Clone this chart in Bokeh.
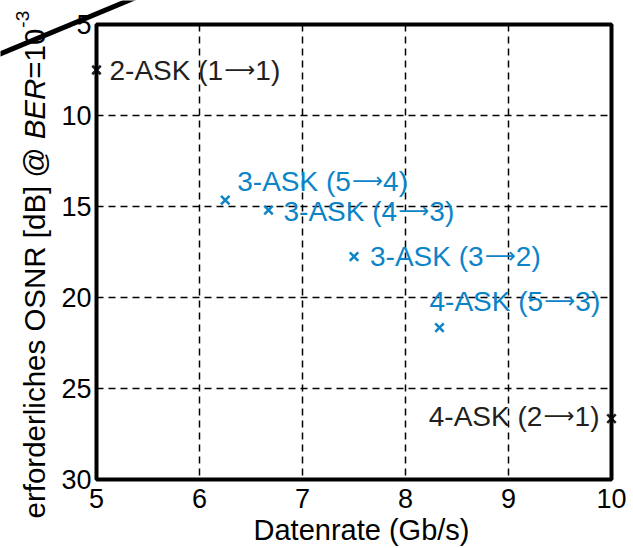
import math
from bokeh.plotting import figure
from bokeh.models import ColumnDataSource, Range1d, FixedTicker, Label, PolyAnnotation, BoxAnnotation
from bokeh.core.properties import value
from bokeh.embed import file_html
from bokeh.resources import INLINE

# data
rates = [5.0, 6.25, 6.67, 7.5, 8.33, 10.0]
osnr = [7.5, 14.65, 15.2, 17.75, 21.65, 26.65]
names = ["2-ASK (1\u21921)", "3-ASK (5\u21924)", "3-ASK (4\u21923)",
         "3-ASK (3\u21922)", "4-ASK (5\u21923)", "4-ASK (2\u21921)"]
groups = ["k", "b", "b", "b", "b", "k"]
x_ticks = [5, 6, 7, 8, 9, 10]
y_ticks = [5, 10, 15, 20, 25, 30]
x_label = "Datenrate (Gb/s)"
y_label_parts = ["erforderliches OSNR [dB] @ ", "BER", "=10", "-3"]

BLACK = "#231f20"
BLUE = "#0c84c8"
FONT = "Liberation Sans"
ARROW_FONT = "DejaVu Sans"

# ---- layout (pixels) ----
W, H = 633, 548
BOX_L, BOX_R, BOX_T, BOX_B = 96, 611, 24, 479
sx = (BOX_R - BOX_L) / (x_ticks[-1] - x_ticks[0])
sy = (BOX_B - BOX_T) / (y_ticks[-1] - y_ticks[0])
xr = Range1d(x_ticks[0] - BOX_L / sx, x_ticks[-1] + (W - BOX_R) / sx)
yr = Range1d(y_ticks[-1] + (H - BOX_B) / sy, y_ticks[0] - BOX_T / sy)

p = figure(width=W, height=H, output_backend="svg", toolbar_location=None,
           x_range=xr, y_range=yr, min_border=0)
p.background_fill_color = "white"
p.border_fill_color = "white"
p.outline_line_color = None

for ax in (p.xaxis[0], p.yaxis[0]):
    ax.axis_line_color = None
    ax.major_tick_line_color = None
    ax.minor_tick_line_color = None
    ax.major_tick_out = 0
    ax.major_tick_in = 0
    ax.major_label_text_font = FONT
    ax.major_label_text_font_size = "27px"
    ax.major_label_text_color = "black"
p.xaxis.ticker = FixedTicker(ticks=x_ticks)
p.yaxis.ticker = FixedTicker(ticks=y_ticks)
p.xaxis.fixed_location = y_ticks[-1]
p.yaxis.fixed_location = x_ticks[0]
p.xaxis.major_label_standoff = 9
p.yaxis.major_label_standoff = 5

for g in (p.xgrid[0], p.ygrid[0]):
    g.grid_line_color = "black"
    g.grid_line_width = 1.5
    g.grid_line_dash = "7 5"
p.xgrid.ticker = FixedTicker(ticks=x_ticks)
p.ygrid.ticker = FixedTicker(ticks=y_ticks)
p.xgrid.cross_bounds = (y_ticks[0], y_ticks[-1])
p.ygrid.cross_bounds = (x_ticks[0], x_ticks[-1])

# ---- markers ----
colors = [BLACK if g == "k" else BLUE for g in groups]
src = ColumnDataSource(dict(x=rates, y=osnr, c=colors))
p.scatter("x", "y", source=src, marker="x", size=12, line_width=2.5, line_color="c")

# ---- point labels (text + long thin arrow) ----
FS, AFS = 28, 21.5
AW = {"0": .556, "1": .556, "2": .556, "3": .556, "4": .556, "5": .556, "-": .333,
      "A": .667, "S": .667, "K": .667, " ": .278, "(": .333, ")": .333}
ARROW_ADV = 1.43 * AFS
dx = [13, 12, 15, 16, -10, -12]
dy = [0, -19, 1, 0, -26, -2]
right_aligned = [False, False, False, False, False, True]

pre_x, arr_x, post_x, pre_t, post_t = [], [], [], [], []
for n, ox, ra in zip(names, dx, right_aligned):
    a, b = n.split("\u2192")
    wa = sum(AW[ch] for ch in a) * FS
    wb = sum(AW[ch] for ch in b) * FS
    total = wa + 1.5 + ARROW_ADV + wb
    x0 = ox - total if ra else ox
    pre_x.append(x0)
    arr_x.append(x0 + wa + 1.5)
    post_x.append(x0 + wa + 1.5 + ARROW_ADV)
    pre_t.append(a)
    post_t.append(b)

lab = ColumnDataSource(dict(x=rates, y=osnr, c=colors, dy=dy, ady=[d - 1 for d in dy],
                            px=pre_x, ax=arr_x, qx=post_x, pt=pre_t, qt=post_t,
                            at=["\u27f6"] * len(rates)))
p.text("x", "y", text="pt", source=lab, text_color="c", x_offset="px", y_offset="dy",
       text_baseline="middle", text_font=value(FONT), text_font_size=f"{FS}px")
p.text("x", "y", text="at", source=lab, text_color="c", x_offset="ax", y_offset="ady",
       text_baseline="middle", text_font=value(ARROW_FONT), text_font_size=f"{AFS}px")
p.text("x", "y", text="qt", source=lab, text_color="c", x_offset="qx", y_offset="dy",
       text_baseline="middle", text_font=value(FONT), text_font_size=f"{FS}px")

# ---- box ----
p.add_layout(BoxAnnotation(left=x_ticks[0], right=x_ticks[-1], top=y_ticks[0], bottom=y_ticks[-1],
                           fill_alpha=0, line_color="black", line_alpha=1.0,
                           line_dash="solid", line_width=4))

# ---- x label (screen units, origin bottom-left of canvas) ----
p.add_layout(Label(x=361, y=19, x_units="screen", y_units="screen", text=x_label,
                   text_font=FONT, text_font_size="29px", text_color="black",
                   text_align="center", text_baseline="alphabetic"))

# ---- rotated y label ----
F = 29.5
base_x = 34
pos = H - 518
widths = [12.852, 2.056, 1.696]
styles = ["normal", "italic", "normal"]
for txt, st, em in zip(y_label_parts[:3], styles, widths):
    p.add_layout(Label(x=base_x, y=pos, x_units="screen", y_units="screen", text=txt,
                       angle=math.pi / 2, text_font=FONT, text_font_size=f"{F}px",
                       text_font_style=st, text_color="black",
                       text_align="left", text_baseline="alphabetic"))
    pos += em * F
p.add_layout(Label(x=22, y=pos + 1, x_units="screen", y_units="screen", text=y_label_parts[3],
                   angle=math.pi / 2, text_font=FONT, text_font_size="19px",
                   text_color="black", text_align="left", text_baseline="alphabetic"))

# ---- diagonal stroke at the top-left corner ----
p.add_layout(PolyAnnotation(xs=[-10, 140], ys=[H - 57.5, H + 5],
                            xs_units="screen", ys_units="screen",
                            line_color="black", line_alpha=1.0, line_dash="solid",
                            line_width=5, fill_alpha=0))

open("out.html", "w").write(file_html(p, INLINE))
